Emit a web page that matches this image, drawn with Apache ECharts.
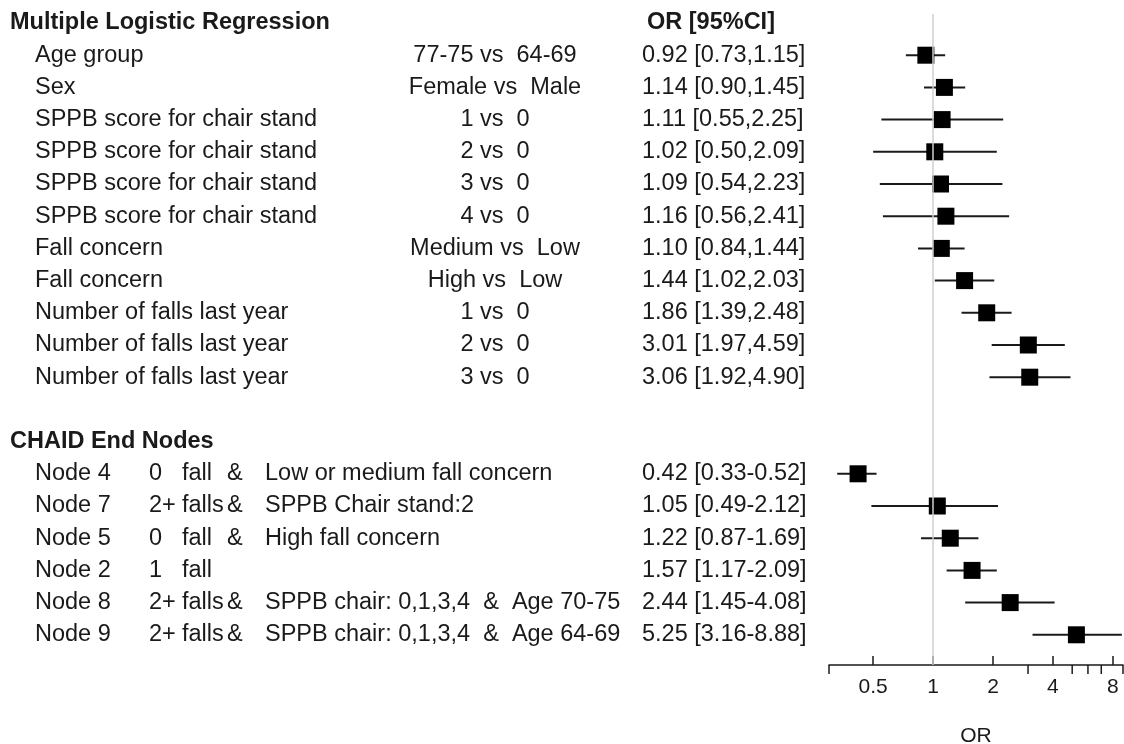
<!DOCTYPE html>
<html>
<head>
<meta charset="utf-8">
<script src="https://cdn.jsdelivr.net/npm/echarts@6/dist/echarts.min.js"></script>
<style>
  html, body { margin: 0; padding: 0; background: #fff; }
  #main { width: 1124px; height: 744px; }
</style>
</head>
<body>
<div id="main"></div>
<script>
// multiple logistic regression
const regLabels = [
  "Age group", "Sex",
  "SPPB score for chair stand", "SPPB score for chair stand",
  "SPPB score for chair stand", "SPPB score for chair stand",
  "Fall concern", "Fall concern",
  "Number of falls last year", "Number of falls last year", "Number of falls last year"
];
const regContrasts = [
  "77-75 vs  64-69", "Female vs  Male", "1 vs  0", "2 vs  0", "3 vs  0", "4 vs  0",
  "Medium vs  Low", "High vs  Low", "1 vs  0", "2 vs  0", "3 vs  0"
];
const regOR   = [0.92, 1.14, 1.11, 1.02, 1.09, 1.16, 1.10, 1.44, 1.86, 3.01, 3.06];
const regLow  = [0.73, 0.90, 0.55, 0.50, 0.54, 0.56, 0.84, 1.02, 1.39, 1.97, 1.92];
const regHigh = [1.15, 1.45, 2.25, 2.09, 2.23, 2.41, 1.44, 2.03, 2.48, 4.59, 4.90];

// CHAID end nodes
const nodeLabels = ["Node 4", "Node 7", "Node 5", "Node 2", "Node 8", "Node 9"];
const nodeFalls = ["0", "2+", "0", "1", "2+", "2+"];
const nodeFallWord = ["fall", "falls", "fall", "fall", "falls", "falls"];
const nodeConditions = [
  "Low or medium fall concern", "SPPB Chair stand:2", "High fall concern", "",
  "SPPB chair: 0,1,3,4  &  Age 70-75", "SPPB chair: 0,1,3,4  &  Age 64-69"
];
const nodeOR   = [0.42, 1.05, 1.22, 1.57, 2.44, 5.25];
const nodeLow  = [0.33, 0.49, 0.87, 1.17, 1.45, 3.16];
const nodeHigh = [0.52, 2.12, 1.69, 2.09, 4.08, 8.88];

const sectionTitles = ["Multiple Logistic Regression", "CHAID End Nodes"];
const orHeader = "OR [95%CI]";
// unlabelled ticks (the labelled ones 0.5,1,2,4,8 come from the log axis)
const xMinorTicks = [0.3, 3, 5, 6, 7, 9];

// row numbers on the y axis (0 = top header)
const regRows = regOR.map((_, i) => i + 1);
const nodeRows = nodeOR.map((_, i) => i + 14);
const headRows = [0, 13];

const FONT = '"Liberation Sans", Arial, sans-serif';
const COL = { title: 10, label: 35, contrast: 495, ci: 642, ciHead: 647, falls: 149, word: 182, amp: 227, cond: 265 };

// build the table text rows
const tableRows = [];
tableRows.push({ row: headRows[0], cells: [
  { x: COL.title, text: sectionTitles[0], bold: true },
  { x: COL.ciHead, text: orHeader, bold: true }
]});
regRows.forEach((r, i) => {
  tableRows.push({ row: r, cells: [
    { x: COL.label, text: regLabels[i] },
    { x: COL.contrast, text: regContrasts[i], align: "center" },
    { x: COL.ci, text: regOR[i].toFixed(2) + " [" + regLow[i].toFixed(2) + "," + regHigh[i].toFixed(2) + "]" }
  ]});
});
tableRows.push({ row: headRows[1], cells: [{ x: COL.title, text: sectionTitles[1], bold: true }] });
nodeRows.forEach((r, i) => {
  const cells = [
    { x: COL.label, text: nodeLabels[i] },
    { x: COL.falls, text: nodeFalls[i] },
    { x: COL.word, text: nodeFallWord[i] },
    { x: COL.ci, text: nodeOR[i].toFixed(2) + " [" + nodeLow[i].toFixed(2) + "-" + nodeHigh[i].toFixed(2) + "]" }
  ];
  if (nodeConditions[i]) {
    cells.push({ x: COL.amp, text: "&" });
    cells.push({ x: COL.cond, text: nodeConditions[i] });
  }
  tableRows.push({ row: r, cells: cells });
});

const ciData = regRows.map((r, i) => [regLow[i], regHigh[i], r])
  .concat(nodeRows.map((r, i) => [nodeLow[i], nodeHigh[i], r]));
const orData = regRows.map((r, i) => [regOR[i], r])
  .concat(nodeRows.map((r, i) => [nodeOR[i], r]));

const chart = echarts.init(document.getElementById("main"));
chart.setOption({
  animation: false,
  grid: { left: 829, right: 1, top: 14, bottom: 79, outerBoundsMode: "none" },
  xAxis: {
    type: "log",
    logBase: 2,
    min: 0.3,
    max: 9,
    position: "bottom",
    name: "OR",
    nameLocation: "middle",
    nameGap: 61,
    nameTextStyle: { fontSize: 21, color: "#1a1a1a", fontFamily: FONT },
    axisLine: { onZero: false, lineStyle: { color: "#1a1a1a", width: 1.5 } },
    // the inverted y axis flips tick direction, so "inside" points them down
    axisTick: { inside: true, length: 9, lineStyle: { color: "#1a1a1a", width: 1.5 } },
    axisLabel: {
      fontSize: 21, color: "#1a1a1a", fontFamily: FONT, margin: 12,
      showMinLabel: false, showMaxLabel: false
    },
    splitLine: { show: false },
    minorTick: { show: false }
  },
  yAxis: {
    type: "value",
    inverse: true,
    min: -0.2795,
    max: 19.938,
    show: false
  },
  series: [
    {
      // reference line at OR = 1
      type: "scatter",
      data: [],
      z: 1,
      markLine: {
        silent: true,
        symbol: "none",
        label: { show: false },
        lineStyle: { color: "#cfcfcf", width: 1.5, type: "solid" },
        data: [{ xAxis: 1 }]
      }
    },
    {
      type: "custom",
      z: 2,
      clip: false,
      data: ciData,
      encode: { x: [0, 1], y: 2 },
      renderItem: function (params, api) {
        const a = api.coord([api.value(0), api.value(2)]);
        const b = api.coord([api.value(1), api.value(2)]);
        return {
          type: "line",
          shape: { x1: a[0], y1: a[1], x2: b[0], y2: b[1] },
          style: { stroke: "#1a1a1a", lineWidth: 2 }
        };
      }
    },
    {
      type: "scatter",
      z: 3,
      symbol: "rect",
      symbolSize: 17,
      itemStyle: { color: "#000", opacity: 1 },
      data: orData
    },
    {
      // minor ticks below the axis
      type: "custom",
      clip: false,
      data: xMinorTicks.map((v) => [v, 0]),
      encode: { x: 0, y: 1 },
      renderItem: function (params, api) {
        const x = api.coord([api.value(0), 0])[0];
        const y0 = params.coordSys.y + params.coordSys.height;
        return {
          type: "line",
          shape: { x1: x, y1: y0, x2: x, y2: y0 + 9 },
          style: { stroke: "#1a1a1a", lineWidth: 1.5 }
        };
      }
    },
    {
      // table text
      type: "custom",
      clip: false,
      data: tableRows.map((r) => [1, r.row]),
      encode: { x: 0, y: 1 },
      renderItem: function (params, api) {
        const r = tableRows[params.dataIndex];
        const y = api.coord([1, r.row])[1];
        return {
          type: "group",
          children: r.cells.map((c) => ({
            type: "text",
            x: c.x,
            y: y,
            style: {
              text: c.text,
              fill: "#1a1a1a",
              font: (c.bold ? "bold 23.5px " : "23.5px ") + FONT,
              align: c.align || "left",
              verticalAlign: "middle"
            }
          }))
        };
      }
    }
  ]
});
</script>
</body>
</html>
